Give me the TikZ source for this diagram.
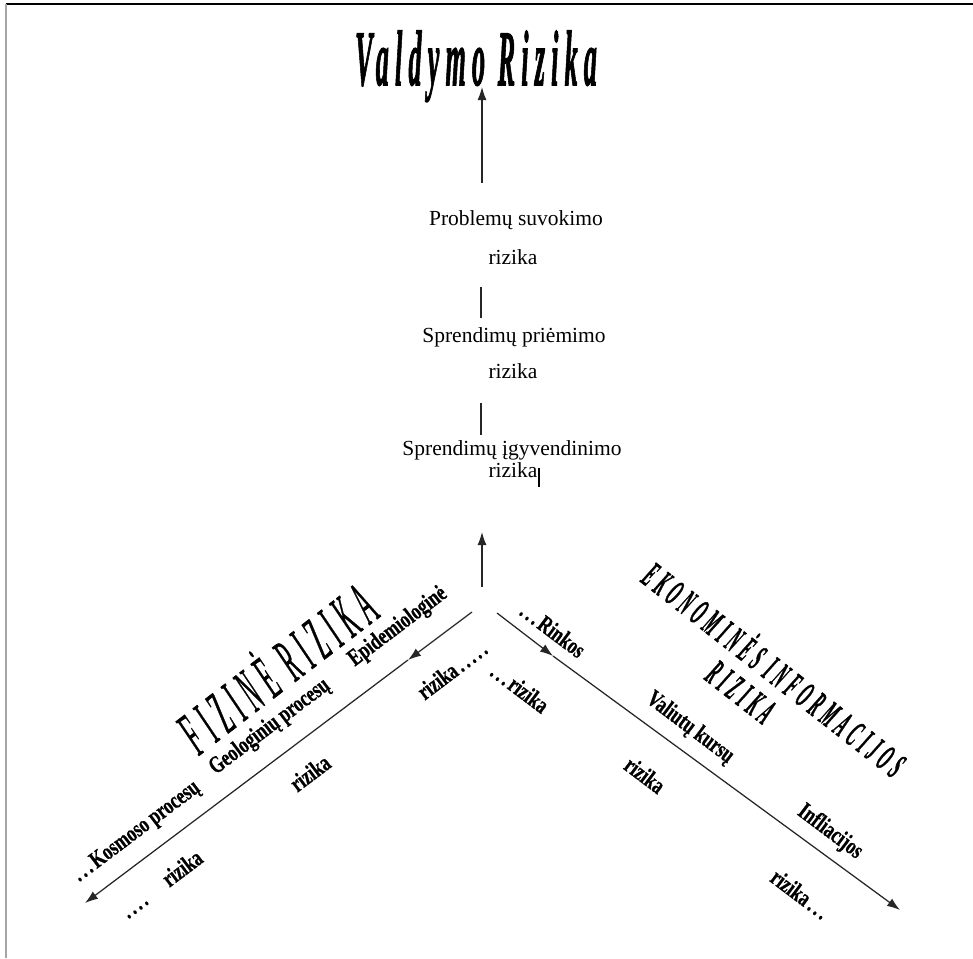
\documentclass[tikz,border=0pt]{standalone}
\usepackage{fontspec}
\setmainfont{Liberation Serif}
\usetikzlibrary{arrows.meta}

\begin{document}
\begin{tikzpicture}[x=1pt,y=-1pt,
  every node/.style={inner sep=0pt, outer sep=0pt},
  plain/.style={font=\fontsize{21.5}{24}\selectfont, anchor=base},
  arrowtip/.style={-{Latex[length=13pt,width=9pt]}},
  link/.style={line width=1.25pt, draw=black!85},
  labfont/.style={font=\bfseries\fontsize{24}{26}\selectfont\addfontfeatures{FakeBold=0.8}},
  labL/.style={rotate=37, xscale=0.73, labfont},
  labR/.style={rotate=-37, xscale=0.73, labfont},
  ekofont/.style={font=\bfseries\itshape\fontsize{20}{20}\selectfont\addfontfeatures{LetterSpace=40,FakeBold=1.5}},
]
\useasboundingbox (0,0) rectangle (973,958);

% frame
\draw[line width=2pt] (6,4.5) -- (973,4.5);
\draw[line width=2pt, gray!70] (5.5,4) -- (5.5,958);

% heading
\node (title) [anchor=base, xscale=0.65, yscale=1.96,
  font=\bfseries\itshape\fontsize{40}{40}\selectfont\addfontfeatures{LetterSpace=24,FakeBold=2}]
  at (476,85) {Valdymo Rizika};

% central chain
\node (p1) [plain] at (516,225) {Problemų suvokimo};
\node (p2) [plain] at (513,264) {rizika};
\node (s1) [plain] at (514,342) {Sprendimų priėmimo};
\node (s2) [plain] at (513,378) {rizika};
\node (g1) [plain] at (512,455) {Sprendimų įgyvendinimo};
\node (g2) [plain] at (513,477) {rizika};

\coordinate (upA) at (482,183);
\coordinate (upAtip) at (482,87);
\draw[link, arrowtip] (upA) -- (upAtip);

\coordinate (v1a) at (481,287);
\coordinate (v1b) at (481,318);
\draw[link] (v1a) -- (v1b);
\coordinate (v2a) at (481,403);
\coordinate (v2b) at (481,435);
\draw[link] (v2a) -- (v2b);

% text cursor after the last word
\coordinate (cur1) at (539,468);
\coordinate (cur2) at (539,487);
\draw[line width=2pt] (cur1) -- (cur2);

% lower arrow to the chain
\coordinate (upB) at (482,587);
\coordinate (upBtip) at (482,532);
\draw[link, arrowtip] (upB) -- (upBtip);

% left branch
\coordinate (L0) at (472,612);
\coordinate (L1) at (408,660);
\coordinate (L2) at (85,903);
\draw[link, arrowtip] (L0) -- (L1);
\draw[link, arrowtip] (L1) -- (L2);

% right branch
\coordinate (R0) at (497,613);
\coordinate (R1) at (553,656);
\coordinate (R2) at (900,910);
\draw[link, arrowtip] (R0) -- (R1);
\draw[link, arrowtip] (R1) -- (R2);

% left group
\node (fiz) [anchor=base, rotate=37.5, xscale=0.75, yscale=2.1,
  font=\itshape\fontsize{30}{30}\selectfont\addfontfeatures{LetterSpace=34,FakeBold=1}]
  at (290,686) {FIZINĖ RIZIKA};
\node (epi) [labL] at (398,627) {Epidemiologinė};
\node (epiR) [labL] at (452,670) {rizika\,.\,.\,.\,.\,.};
\node (geo) [labL] at (270,727) {Geologinių procesų};
\node (geoR) [labL] at (310,773) {rizika};
\node (kos) [labL] at (137,832) {.\,.\,.\,Kosmoso procesų};
\node (kosR) [labL] at (182,868) {rizika};
\node (kosD) [labL] at (138,910) {.\,.\,.\,.};

% right group
\node (eko) [anchor=base, rotate=-38, xscale=0.7, yscale=1.89, ekofont]
  at (766,680) {EKONOMINĖS INFORMACIJOS};
\node (ekoR) [anchor=base, rotate=-38, xscale=0.7, yscale=1.89, ekofont]
  at (733,702) {RIZIKA};
\node (rin) [labR] at (553,630) {.\,.\,.\,Rinkos};
\node (rinR) [labR] at (520,688) {.\,.\,.\,rizika};
\node (val) [labR] at (690,728) {Valiutų kursų};
\node (valR) [labR] at (645,775) {rizika};
\node (inf) [labR] at (830,832) {Infliacijos};
\node (infR) [labR] at (800,894) {rizika\,.\,.\,.};
\end{tikzpicture}
\end{document}
